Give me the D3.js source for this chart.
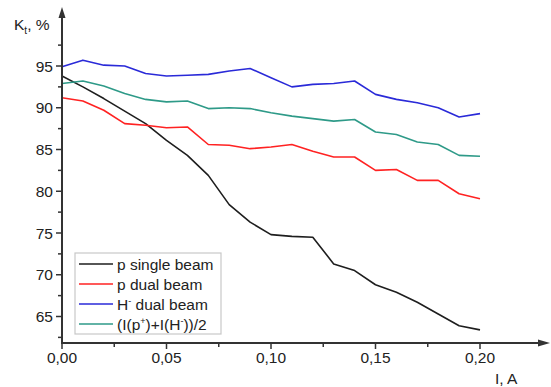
<!DOCTYPE html>
<html>
<head>
<meta charset="utf-8">
<script src="https://cdn.jsdelivr.net/npm/d3@7"></script>
<style>
  html, body { margin: 0; padding: 0; background: #fff; }
  svg { display: block; font-family: "Liberation Sans", Arial, sans-serif; }
</style>
</head>
<body>
<svg id="chart" width="551" height="387"></svg>
<script>
// Beam current, A
const current = [0.00, 0.01, 0.02, 0.03, 0.04, 0.05, 0.06, 0.07, 0.08, 0.09, 0.10,
                 0.11, 0.12, 0.13, 0.14, 0.15, 0.16, 0.17, 0.18, 0.19, 0.20];

// Transmission coefficient K_t, %
const pSingle = [93.8, 92.5, 91.1, 89.6, 88.1, 86.1, 84.3, 81.9, 78.4, 76.3, 74.8,
                 74.6, 74.5, 71.3, 70.5, 68.8, 67.9, 66.7, 65.3, 63.9, 63.4];
const pDual   = [91.2, 90.8, 89.7, 88.1, 87.9, 87.6, 87.7, 85.6, 85.5, 85.1, 85.3,
                 85.6, 84.8, 84.1, 84.1, 82.5, 82.6, 81.3, 81.3, 79.7, 79.1];
const hDual   = [94.9, 95.7, 95.1, 95.0, 94.1, 93.8, 93.9, 94.0, 94.4, 94.7, 93.6,
                 92.5, 92.8, 92.9, 93.2, 91.6, 91.0, 90.6, 90.0, 88.9, 89.3];
const average = [92.9, 93.2, 92.6, 91.7, 91.0, 90.7, 90.8, 89.9, 90.0, 89.9, 89.4,
                 89.0, 88.7, 88.4, 88.6, 87.1, 86.8, 85.9, 85.6, 84.3, 84.2];

const xMajorTicks = [0.00, 0.05, 0.10, 0.15, 0.20];
const xMinorTicks = [0.025, 0.075, 0.125, 0.175];
const yMajorTicks = [65, 70, 75, 80, 85, 90, 95];
const yMinorTicks = [62.5, 67.5, 72.5, 77.5, 82.5, 87.5, 92.5, 97.5];

const seriesNames = ["p single beam", "p dual beam", "H dual beam", "avg"];
const seriesColors = ["#1e1e1e", "#ff2222", "#2a2ad8", "#2e9a88"];

const series = [pSingle, pDual, hDual, average].map((vals, i) => ({
  name: seriesNames[i],
  color: seriesColors[i],
  points: current.map((c, j) => ({ x: c, y: vals[j] }))
}));

const svg = d3.select("#chart");
const axisColor = "#333";
const textColor = "#222";
const labelSize = 15.5;

const x = d3.scaleLinear().domain([0, 0.2]).range([62, 480]);
const y = d3.scaleLinear().domain([65, 95]).range([316.5, 66]);

const x0 = x(0);
const yBase = 343;

// Data lines
const line = d3.line()
  .x(d => x(d.x))
  .y(d => y(d.y));

svg.append("g")
  .selectAll("path")
  .data(series)
  .join("path")
  .attr("d", d => line(d.points))
  .attr("fill", "none")
  .attr("stroke", d => d.color)
  .attr("stroke-width", 1.6)
  .attr("stroke-linejoin", "round");

// Y axis
const fmtY = d3.format("d");
const yAxis = svg.append("g").attr("transform", `translate(${x0},0)`);
yAxis.append("line")
  .attr("x1", 0).attr("x2", 0)
  .attr("y1", yBase).attr("y2", 16)
  .attr("stroke", axisColor).attr("stroke-width", 2);
yAxis.append("path")
  .attr("d", "M0,7 L-3.5,18 L3.5,18 Z")
  .attr("fill", axisColor);
yAxis.selectAll(".ymaj")
  .data(yMajorTicks)
  .join("line")
  .attr("x1", -6).attr("x2", 0)
  .attr("y1", d => y(d)).attr("y2", d => y(d))
  .attr("stroke", axisColor).attr("stroke-width", 1.5);
yAxis.selectAll(".ymin")
  .data(yMinorTicks)
  .join("line")
  .attr("x1", -4).attr("x2", 0)
  .attr("y1", d => y(d)).attr("y2", d => y(d))
  .attr("stroke", axisColor).attr("stroke-width", 1.5);
yAxis.selectAll("text")
  .data(yMajorTicks)
  .join("text")
  .attr("x", -9)
  .attr("y", d => y(d))
  .attr("dy", "0.36em")
  .attr("text-anchor", "end")
  .attr("font-size", labelSize)
  .attr("fill", textColor)
  .text(fmtY);

// X axis
const fmtX = v => d3.format(".2f")(v).replace(".", ",");
const xAxis = svg.append("g").attr("transform", `translate(0,${yBase})`);
xAxis.append("line")
  .attr("x1", x0 - 1).attr("x2", 540)
  .attr("y1", 0).attr("y2", 0)
  .attr("stroke", axisColor).attr("stroke-width", 2);
xAxis.append("path")
  .attr("d", "M550,0 L538,-3.5 L538,3.5 Z")
  .attr("fill", axisColor);
xAxis.selectAll(".xmaj")
  .data(xMajorTicks)
  .join("line")
  .attr("x1", d => x(d)).attr("x2", d => x(d))
  .attr("y1", 0).attr("y2", 6)
  .attr("stroke", axisColor).attr("stroke-width", 1.5);
xAxis.selectAll(".xmin")
  .data(xMinorTicks)
  .join("line")
  .attr("x1", d => x(d)).attr("x2", d => x(d))
  .attr("y1", 0).attr("y2", 4)
  .attr("stroke", axisColor).attr("stroke-width", 1.5);
xAxis.selectAll("text")
  .data(xMajorTicks)
  .join("text")
  .attr("x", d => x(d))
  .attr("y", 20)
  .attr("text-anchor", "middle")
  .attr("font-size", labelSize)
  .attr("fill", textColor)
  .text(fmtX);

// Axis titles
const yTitle = svg.append("text")
  .attr("x", 14).attr("y", 30)
  .attr("font-size", 15.5)
  .attr("fill", textColor);
yTitle.append("tspan").text("K");
yTitle.append("tspan").attr("font-size", 10).attr("dy", 4).text("t");
yTitle.append("tspan").attr("dy", -4).text(", %");

svg.append("text")
  .attr("x", 495).attr("y", 384)
  .attr("font-size", 15.5)
  .attr("fill", textColor)
  .text("I, A");

// Legend
const legend = svg.append("g").attr("transform", "translate(75,253)");
legend.append("rect")
  .attr("x", 0).attr("y", 0)
  .attr("width", 146).attr("height", 81)
  .attr("fill", "#fff")
  .attr("stroke", "#c8c8c8")
  .attr("stroke-width", 1.2);

const rows = legend.selectAll(".row")
  .data(series)
  .join("g")
  .attr("transform", (d, i) => `translate(0,${11 + i * 20})`);
rows.append("line")
  .attr("x1", 4).attr("x2", 38)
  .attr("y1", 0).attr("y2", 0)
  .attr("stroke", d => d.color)
  .attr("stroke-width", 1.6);

const labels = rows.append("text")
  .attr("x", 42).attr("y", 0)
  .attr("dy", "0.36em")
  .attr("font-size", labelSize)
  .attr("fill", textColor);

labels.each(function(d, i) {
  const t = d3.select(this);
  if (i === 0) t.text("p single beam");
  else if (i === 1) t.text("p dual beam");
  else if (i === 2) {
    t.append("tspan").text("H");
    t.append("tspan").attr("font-size", 9).attr("dy", -6).text("-");
    t.append("tspan").attr("dy", 6).text(" dual beam");
  } else {
    t.append("tspan").text("(I(p");
    t.append("tspan").attr("font-size", 9).attr("dy", -6).text("+");
    t.append("tspan").attr("dy", 6).text(")+I(H");
    t.append("tspan").attr("font-size", 9).attr("dy", -6).text("-");
    t.append("tspan").attr("dy", 6).text("))/2");
  }
});
</script>
</body>
</html>
